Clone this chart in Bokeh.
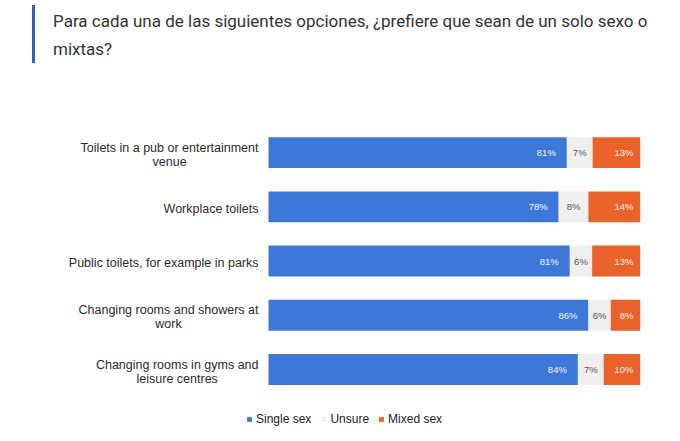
from bokeh.embed import file_html
from bokeh.resources import INLINE
from bokeh.plotting import figure
from bokeh.layouts import column
from bokeh.models import ColumnDataSource, Div, Legend, LegendItem, Range1d
from bokeh.core.properties import value

title = "Para cada una de las siguientes opciones, ¿prefiere que sean de un solo sexo o<br>mixtas?"

categories = ["Toilets in a pub or entertainment venue", "Workplace toilets",
              "Public toilets, for example in parks", "Changing rooms and showers at work",
              "Changing rooms in gyms and leisure centres"]
tick_labels = ["Toilets in a pub or entertainment\nvenue", "Workplace toilets",
               "Public toilets, for example in parks", "Changing rooms and showers at\nwork",
               "Changing rooms in gyms and\nleisure centres"]
single = [81, 78, 81, 86, 84]
unsure = [7, 8, 6, 6, 7]
mixed = [13, 14, 13, 8, 10]
series = ["Single sex", "Unsure", "Mixed sex"]
colors = ["#3d78d8", "#efefef", "#e8622a"]

# each row is drawn as share of its own total (google sheets 100% stacked)
tot = [a + b + c for a, b, c in zip(single, unsure, mixed)]
src = ColumnDataSource(dict(
    y=list(range(len(categories))),
    cat=categories,
    lab=tick_labels,
    s=[a / t for a, t in zip(single, tot)],
    u=[b / t for b, t in zip(unsure, tot)],
    m=[c / t for c, t in zip(mixed, tot)],
    s_txt=["%d%%" % v for v in single],
    u_txt=["%d%%" % v for v in unsure],
    m_txt=["%d%%" % v for v in mixed],
))
src.data["u_mid"] = [a + b / 2 for a, b in zip(src.data["s"], src.data["u"])]
src.data["end"] = [1.0] * len(categories)
src.data["zero"] = [0.0] * len(categories)

head = Div(width=664, height=65, margin=(0, 0, 0, 0))
head.text = ('<div style="margin-left:32px;margin-top:5px;padding-top:2px;border-left:3px solid #2a66b3;'
             'padding-left:18px;font-family:Roboto,sans-serif;font-size:17px;line-height:28px;'
             'color:#333;white-space:nowrap;">' + title + '</div>')

# frame runs from the left edge so the category names (text glyphs) are not clipped
p = figure(width=664, height=368, output_backend="svg", toolbar_location=None,
           x_range=Range1d(-268 / 372, 1), y_range=Range1d(5.18, -0.5),
           x_axis_location=None, y_axis_location=None,
           min_border_left=0, min_border_right=24, min_border_top=60, min_border_bottom=0)
p.outline_line_color = None
p.xgrid.visible = False
p.ygrid.visible = False

bars = p.hbar_stack(["s", "u", "m"], y="y", height=0.57, color=colors, line_color=None, source=src)

font = value("Liberation Sans")
p.text(x="s", y="y", text="s_txt", source=src, x_offset=-11, text_align="right",
       text_baseline="middle", text_font=font, text_font_size="9.5px", text_color="#f4f7fd")
p.text(x="u_mid", y="y", text="u_txt", source=src, text_align="center",
       text_baseline="middle", text_font=font, text_font_size="9.5px", text_color="#555555")
p.text(x="end", y="y", text="m_txt", source=src, x_offset=-7, text_align="right",
       text_baseline="middle", text_font=font, text_font_size="9.5px", text_color="#fdf2ee")

# category names: block anchored right of the bars, lines centred
p.text(x="zero", y="y", text="lab", source=src, x_offset=-10, y_offset=2, anchor="center_right",
       text_align="center", text_baseline="middle", text_font=font, text_font_size="12.5px",
       text_color="#2b2b2b", text_line_height=1.0)

legend = Legend(items=[LegendItem(label=n, renderers=[r]) for n, r in zip(series, bars)],
                location=(242, 3), orientation="horizontal",
                glyph_width=6, glyph_height=6, label_standoff=4, spacing=9,
                label_text_font="Liberation Sans", label_text_font_size="12px",
                label_text_color="#222222", label_height=12, padding=4, margin=0,
                background_fill_alpha=0, border_line_alpha=0)
p.add_layout(legend)

page = column(head, p, spacing=0)
open("out.html", "w").write(file_html(page, INLINE))
